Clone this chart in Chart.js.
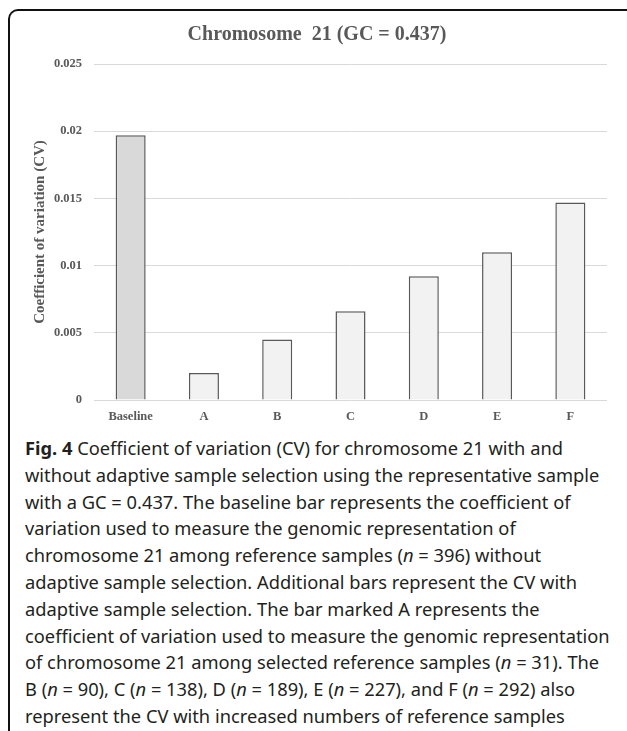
<!DOCTYPE html>
<html>
<head>
<meta charset="utf-8">
<script src="https://cdn.jsdelivr.net/npm/chart.js@4.4.0/dist/chart.umd.min.js"></script>
<style>
  body { margin: 0; background: #fff; width: 627px; height: 731px; overflow: hidden; position: relative; }
  #marco {
    position: absolute; left: 8px; top: 9px; width: 660px; height: 760px;
    border-left: 2px solid #111; border-top: 2px solid #111; border-top-left-radius: 10px;
  }
  #lienzo { position: absolute; left: 0; top: 0; width: 627px; height: 435px; }
  #leyenda {
    position: absolute; left: 25px; top: 435px;
    font-family: "Noto Sans", sans-serif; font-size: 18.3px; color: #231f20;
    line-height: 26.8px; white-space: nowrap;
  }
  #leyenda b { font-weight: bold; }
</style>
</head>
<body>
<div id="marco"></div>
<div id="lienzo"><canvas id="myChart" width="627" height="435"></canvas></div>
<div id="leyenda">
  <div><b>Fig. 4</b> Coefficient of variation (CV) for chromosome 21 with and</div>
  <div>without adaptive sample selection using the representative sample</div>
  <div>with a GC = 0.437. The baseline bar represents the coefficient of</div>
  <div>variation used to measure the genomic representation of</div>
  <div>chromosome 21 among reference samples (<i>n</i> = 396) without</div>
  <div>adaptive sample selection. Additional bars represent the CV with</div>
  <div>adaptive sample selection. The bar marked A represents the</div>
  <div>coefficient of variation used to measure the genomic representation</div>
  <div>of chromosome 21 among selected reference samples (<i>n</i> = 31). The</div>
  <div>B (<i>n</i> = 90), C (<i>n</i> = 138), D (<i>n</i> = 189), E (<i>n</i> = 227), and F (<i>n</i> = 292) also</div>
  <div>represent the CV with increased numbers of reference samples</div>
</div>
<script>
// Datos del gráfico
const categorias = ['Baseline', 'A', 'B', 'C', 'D', 'E', 'F'];
const valoresCV = [0.0197, 0.002, 0.0045, 0.0066, 0.0092, 0.011, 0.0147];
const ticksY = [0, 0.005, 0.01, 0.015, 0.02, 0.025];

// Colores de las barras (la de referencia más oscura)
const rellenos = categorias.map((c, i) => i === 0 ? '#d9d9d9' : '#f2f2f2');

const gris = '#595959';
const fuente = '"Liberation Serif", "Times New Roman", serif';

const ctx = document.getElementById('myChart').getContext('2d');
const chart = new Chart(ctx, {
  type: 'bar',
  data: {
    labels: categorias,
    datasets: [{
      data: valoresCV,
      backgroundColor: rellenos,
      borderColor: gris,
      borderWidth: 1.5,
      barPercentage: 0.41,
      categoryPercentage: 1
    }]
  },
  options: {
    responsive: false,
    animation: false,
    layout: { padding: { left: 27, right: 20, top: 0, bottom: 2 } },
    plugins: {
      legend: { display: false },
      tooltip: { enabled: false },
      title: {
        display: true,
        text: 'Chromosome  21 (GC = 0.437)',
        color: gris,
        font: { family: fuente, size: 20, weight: 'bold' },
        padding: { top: 23, bottom: 17 }
      }
    },
    scales: {
      x: {
        grid: { display: false, drawTicks: false },
        border: { display: false },
        ticks: {
          color: gris,
          font: { family: fuente, size: 12.5, weight: 'bold' },
          padding: 9
        }
      },
      y: {
        min: 0,
        max: 0.025,
        afterBuildTicks: scale => { scale.ticks = ticksY.map(v => ({ value: v })); },
        afterFit: scale => { scale.width = 67; },
        grid: { color: '#d9d9d9', lineWidth: 1, drawTicks: false },
        border: { display: false },
        ticks: {
          color: gris,
          font: { family: fuente, size: 12.5, weight: 'bold' },
          padding: 12,
          callback: v => String(v)
        },
        title: {
          display: true,
          text: 'Coefficient of variation (CV)',
          color: gris,
          font: { family: fuente, size: 15, weight: 'bold' },
          padding: { top: 4, bottom: 0 }
        }
      }
    }
  }
});
</script>
</body>
</html>
